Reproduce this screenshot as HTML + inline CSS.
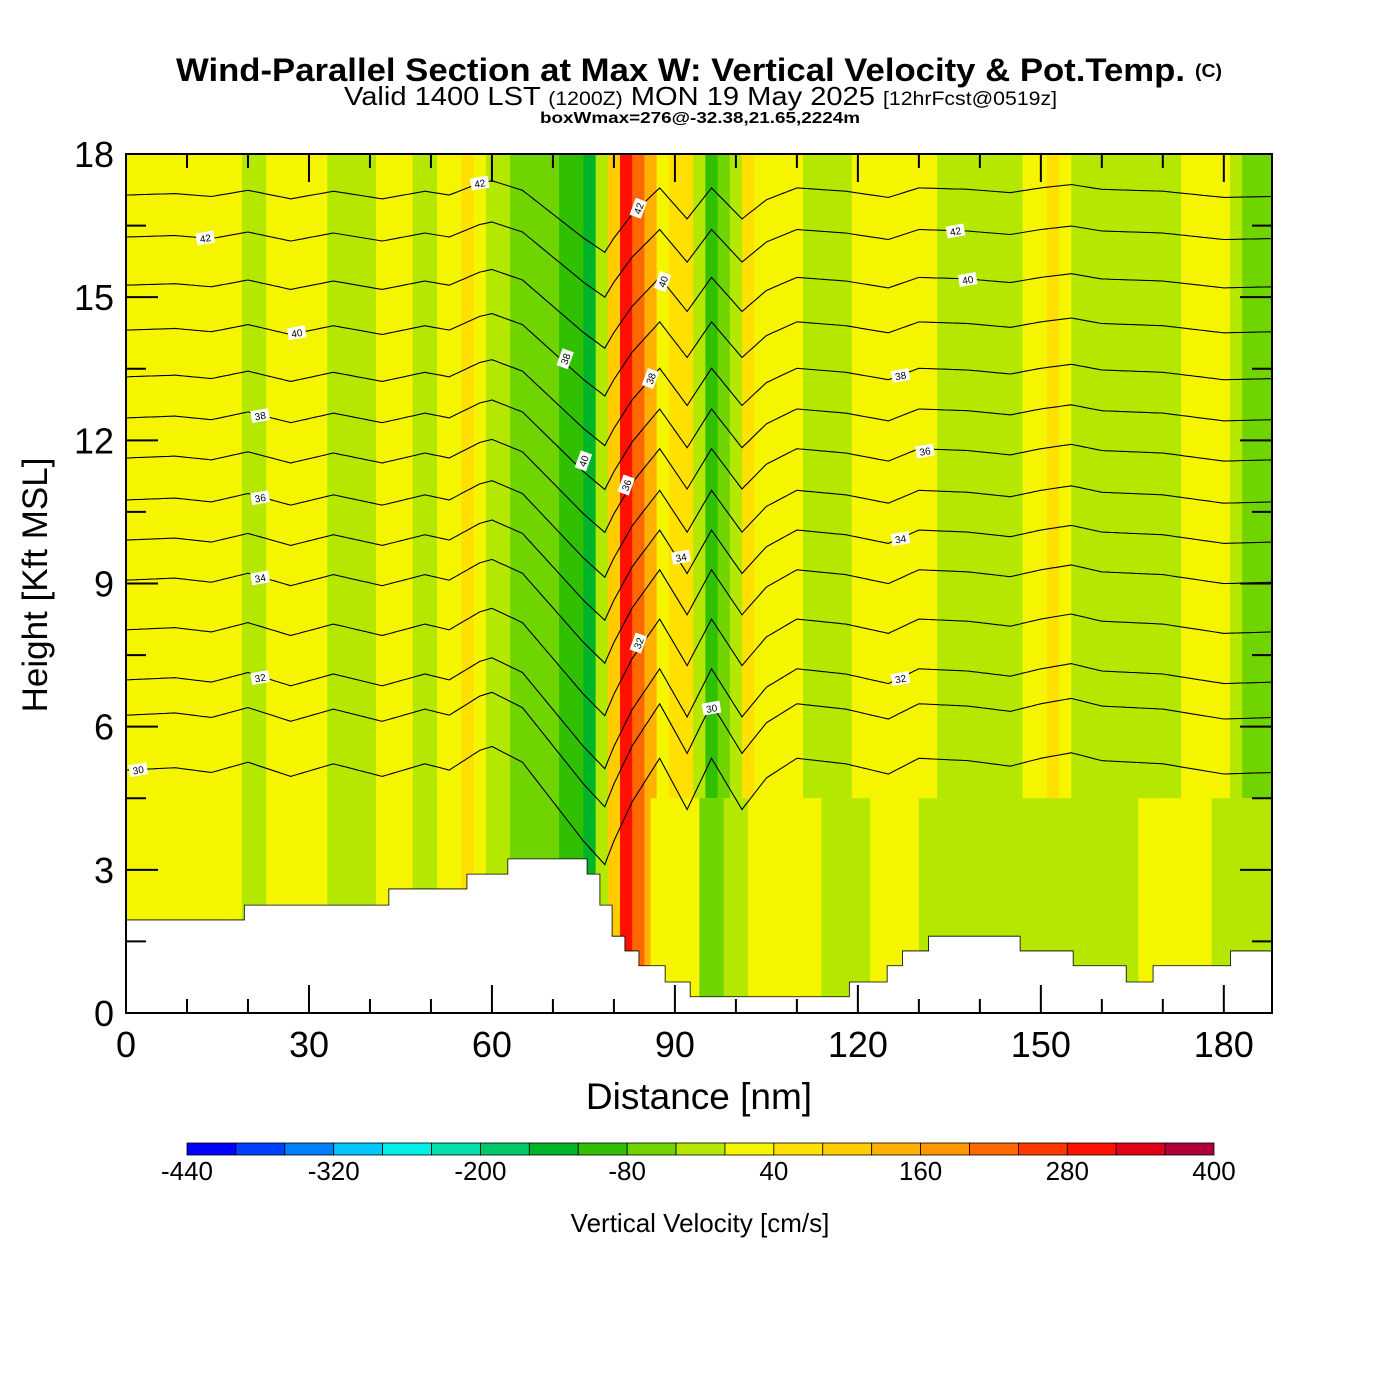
<!DOCTYPE html>
<html><head><meta charset="utf-8"><style>
body{margin:0;background:#fff}
svg{display:block}
text{font-family:"Liberation Sans",sans-serif}
</style></head><body>
<svg id="c" width="1400" height="1400" xmlns="http://www.w3.org/2000/svg">
<rect width="1400" height="1400" fill="#fff"/>
<text x="176" y="81" font-size="32" font-weight="bold" textLength="1009" lengthAdjust="spacingAndGlyphs">Wind-Parallel Section at Max W: Vertical Velocity &amp; Pot.Temp.</text>
<text x="1195" y="77" font-size="18" font-weight="bold" textLength="27" lengthAdjust="spacingAndGlyphs">(C)</text>
<text x="344" y="105" font-size="26" textLength="713" lengthAdjust="spacingAndGlyphs">Valid 1400 LST <tspan font-size="19">(1200Z)</tspan> MON 19 May 2025 <tspan font-size="19">[12hrFcst@0519z]</tspan></text>
<text x="540" y="123" font-size="16" font-weight="bold" textLength="320" lengthAdjust="spacingAndGlyphs">boxWmax=276@-32.38,21.65,2224m</text>
<defs><clipPath id="pc"><rect x="126" y="154" width="1146" height="859"/></clipPath></defs>
<g id="heat" clip-path="url(#pc)"></g>
<g id="cont" clip-path="url(#pc)"></g>
<g id="terr"></g>
<g id="labs" clip-path="url(#pc)"></g>
<g id="axes"></g>
<g id="cbar"></g>
<text x="699" y="1109" font-size="37" text-anchor="middle">Distance [nm]</text>
<text transform="translate(47,585) rotate(-90)" font-size="35" text-anchor="middle">Height [Kft MSL]</text>
<text x="700" y="1232" font-size="26" text-anchor="middle">Vertical Velocity [cm/s]</text>
</svg>
<script>
// ---- data ----
const levels=[-440,-400,-360,-320,-280,-240,-200,-160,-120,-80,-40,0,40,80,120,160,200,240,280,320,360,400];
const levelColors=["#0000ff","#0040ff","#0080ff","#00c8ff","#00f0e8","#00e0a8","#00c868","#00b428","#30c000","#70d400","#b4e800","#f5f500","#ffe000","#ffcc00","#ffb000","#ff9800","#ff6800","#ff3800","#ff1000","#e00018","#b00038"];
const cbarLabels=[-440,-320,-200,-80,40,160,280,400];
// column w (cm/s) every 2 nm, 0..188
const colW=[20,20,20,20,20,20,20,20,20,20,-20,-20,20,20,20,20,20,-20,-20,-20,-20,20,20,20,-20,-20,20,20,60,20,
-20,-20,-60,-60,-60,-60,-100,-100,-140,-20,100,300,220,140,20,60,60,-20,-100,-60,
-20,60,20,20,20,20,-20,-20,-20,-20,20,20,20,20,20,20,20,-20,-20,-20,-20,-20,-20,-20,20,20,60,20,
-20,-20,-20,-20,-20,-20,-20,-20,-20,20,20,20,20,-20,-60,-60,-60];
// low-level (below ~4.5 kft) w every 4 nm, 88..188
const lowStart=88;
const lowW=[20,20,-60,-20,20,20,20,-20,-20,20,20,-20,-20,-20,-20,-20,-20,-20,-20,-20,20,20,20,-20,-20,-20];
const lowTop=4.5;
// terrain steps: start nm, height kft
const terrX=[0,19.4,43.1,55.9,62.6,75.6,77.7,79.7,81.8,84.1,88.4,92.5,118.6,124.8,127.3,131.6,146.6,155.3,164.0,168.4,181.1];
const terrH=[1.95,2.26,2.6,2.91,3.23,2.91,2.26,1.61,1.3,0.99,0.65,0.34,0.65,0.99,1.3,1.61,1.3,0.99,0.65,0.99,1.3];
// theta contour base heights (kft) at left edge
const contBase=[17.14,16.26,15.25,14.31,13.33,12.47,11.63,10.75,9.91,9.07,8.03,6.98,6.24,5.09];
// shared wiggle profile
const profX=[0,8,14,20,27,34,42,49,53,58,60,65,70,75,78.5,80,83,87.5,92,96,101,105,110,118,125,130,138,145,150,155,160,170,180,188];
const profY=[0,0.03,-0.03,0.1,-0.08,0.08,-0.08,0.08,0,0.25,0.3,0.1,-0.4,-0.9,-1.2,-0.9,-0.4,0.15,-0.5,0.15,-0.5,-0.1,0.15,0.08,-0.05,0.15,0.12,0.05,0.15,0.22,0.12,0.08,-0.05,-0.03];
// labels: contour index, distance, text
const labLine=[1,0,3,5,7,9,11,13,1,2,4,6,8,11,0,2,4,6,8,10,12,3,5];
const labDist=[13,58,28,22,22,22,22,2,136,138,127,131,127,127,84,88,86,82,91,84,96,72,75];
const labText=["42","42","40","38","36","34","32","30","42","40","38","36","34","32","42","40","38","36","34","32","30","38","40"];
// ---- scales ----
const X0=126,X1=1272,Y0=1013,Y1=154;
const sx=d=>X0+d*(1146/187.9);
const sy=h=>Y0-h*(859/18);
const NS="http://www.w3.org/2000/svg";
function mk(t,a,p){const e=document.createElementNS(NS,t);for(const k in a)e.setAttribute(k,a[k]);p.appendChild(e);return e;}
function col(v){for(let i=0;i<levelColors.length;i++){if(v<levels[i+1])return levelColors[i];}return levelColors[levelColors.length-1];}
function prof(d){for(let i=0;i<profX.length-1;i++){if(d<=profX[i+1]){const t=(d-profX[i])/(profX[i+1]-profX[i]);return profY[i]+t*(profY[i+1]-profY[i]);}}return profY[profY.length-1];}
// ---- heatmap ----
const heat=document.getElementById('heat');
mk('rect',{x:X0,y:Y1,width:X1-X0,height:Y0-Y1,fill:levelColors[11]},heat);
colW.forEach((v,i)=>{const d=i*2;
 const bottom=d>=lowStart?lowTop:0;
 const r=mk('rect',{x:sx(d-1),y:sy(18),width:sx(d+1)-sx(d-1)+0.6,height:sy(bottom)-sy(18),fill:col(v)},heat);
 
 
});
lowW.forEach((v,i)=>{const d=lowStart+i*4;
 const r=mk('rect',{x:sx(d-2),y:sy(lowTop),width:sx(d+2)-sx(d-2)+0.6,height:sy(0)-sy(lowTop),fill:col(v)},heat);
 
 
});
// ---- contours ----
const cont=document.getElementById('cont');
contBase.forEach((b,j)=>{let p=[];for(let d=0;d<=188;d+=0.5){const h=b+prof(d)*(1+0.05*j);p.push(sx(d).toFixed(1)+','+sy(h).toFixed(1));}
 const l=mk('polyline',{points:p.join(' '),fill:'none',stroke:'#000','stroke-width':1.1},cont);
 
 
});
// ---- terrain ----
const terr=document.getElementById('terr');
let tp=[sx(0)+','+sy(0)];
terrX.forEach((x,i)=>{const xe=i+1<terrX.length?terrX[i+1]:187.9;tp.push(sx(x)+','+sy(terrH[i]));tp.push(sx(xe)+','+sy(terrH[i]));});
tp.push(sx(187.9)+','+sy(0));
mk('polygon',{points:tp.join(' '),fill:'#fff',stroke:'#000','stroke-width':0.8},terr);
// ---- labels ----
const labs=document.getElementById('labs');
labText.forEach((t,i)=>{const d=labDist[i],h=contBase[labLine[i]]+prof(d);const x=sx(d),y=sy(h);
 const g=mk('g',{transform:`translate(${x},${y}) rotate(${d>70&&d<90?-70:-10})`},labs);
 
 
 mk('rect',{x:-9,y:-6,width:18,height:12,fill:'#fff'},g);
 const tx=mk('text',{x:0,y:4,'font-size':10,'text-anchor':'middle'},g);tx.textContent=t;
});
// ---- axes ----
const ax=document.getElementById('axes');
mk('rect',{x:X0,y:Y1,width:X1-X0,height:Y0-Y1,fill:'none',stroke:'#000','stroke-width':2},ax);
for(let d=10;d<188;d+=10){const L=d%30==0?28:14;
 mk('line',{x1:sx(d),x2:sx(d),y1:Y0,y2:Y0-L,stroke:'#000','stroke-width':2},ax);
 mk('line',{x1:sx(d),x2:sx(d),y1:Y1,y2:Y1+L,stroke:'#000','stroke-width':2},ax);}
for(let d=0;d<=180;d+=30){const t=mk('text',{x:sx(d),y:1057,'font-size':36,'text-anchor':'middle'},ax);t.textContent=d;
 }
for(let h=1.5;h<18;h+=1.5){const L=(h%3==0)?32:20;
 mk('line',{x1:X0,x2:X0+L,y1:sy(h),y2:sy(h),stroke:'#000','stroke-width':2},ax);
 mk('line',{x1:X1,x2:X1-L,y1:sy(h),y2:sy(h),stroke:'#000','stroke-width':2},ax);}
for(let h=0;h<=18;h+=3){const t=mk('text',{x:114,y:sy(h)+13,'font-size':36,'text-anchor':'end'},ax);t.textContent=h;
 }
// ---- colorbar ----
const cb=document.getElementById('cbar');const cx0=187,cw=(1214-187)/21;
levelColors.forEach((c,i)=>{const r=mk('rect',{x:cx0+i*cw,y:1143,width:cw,height:12,fill:c,stroke:'#000','stroke-width':0.8},cb);
 });
cbarLabels.forEach(v=>{const i=levels.indexOf(v);const t=mk('text',{x:cx0+i*cw,y:1180,'font-size':26,'text-anchor':'middle'},cb);t.textContent=v;
 });
</script>
</body></html>
